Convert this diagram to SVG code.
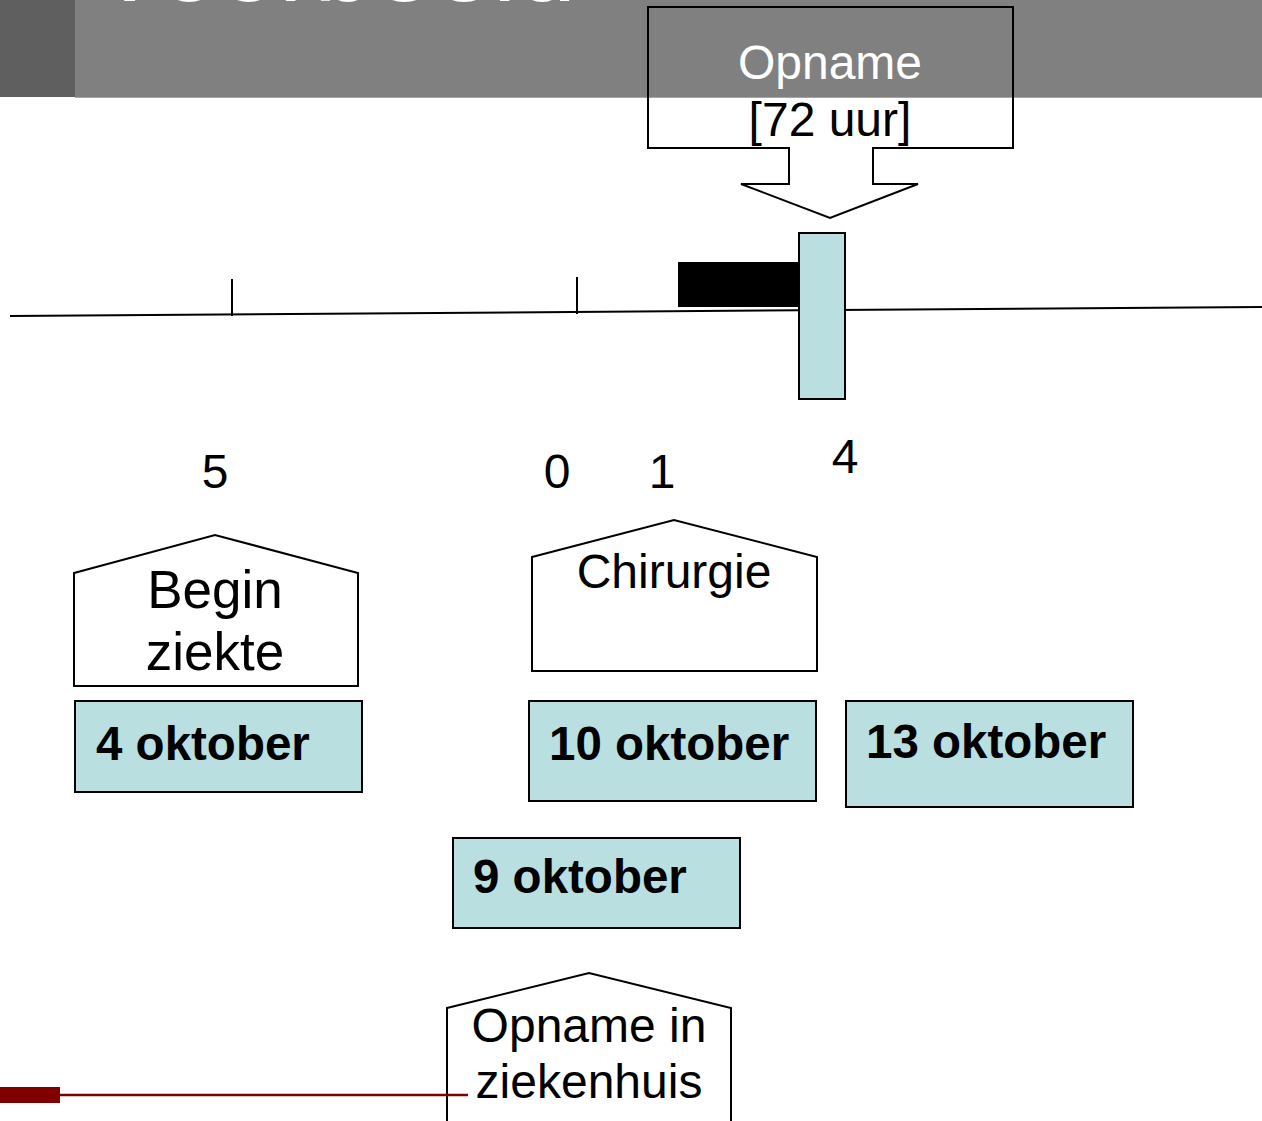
<svg xmlns="http://www.w3.org/2000/svg" width="1262" height="1121" viewBox="0 0 1262 1121">
<style>
text{font-family:"Liberation Sans",Arial,sans-serif;}
.lbl{font-size:48px;fill:#000;text-anchor:middle;}
.date{font-size:47.5px;font-weight:bold;fill:#000;}
.box{fill:#b9dfe1;stroke:#000;stroke-width:2;}
.shape{fill:#fff;stroke:#000;stroke-width:2;}
</style>
<rect width="1262" height="1121" fill="#fff"/>
<g id="header">
<rect x="0" y="0" width="1262" height="97" fill="#808080"/>
<rect x="0" y="0" width="75" height="97" fill="#5f5f5f"/>
<line x1="75" y1="97.5" x2="1262" y2="97.5" stroke="#a6a6a6" stroke-width="1"/>
<text x="94" y="1" font-size="107" fill="#fff">Voorbeeld</text>
</g>
<g id="timeline">
<line x1="10" y1="316" x2="1262" y2="307" stroke="#000" stroke-width="2"/>
<line x1="232" y1="279" x2="232" y2="316" stroke="#000" stroke-width="2"/>
<line x1="577" y1="277" x2="577" y2="314" stroke="#000" stroke-width="2"/>
<rect x="678" y="262" width="122" height="45" fill="#000"/>
<rect class="box" x="799" y="233" width="46" height="166"/>
</g>
<g id="callout-opname">
<path d="M648,7 H1013 V148 H873 V184 H918 L830,218 L741,184 H789 V148 H648 Z" fill="none" stroke="#000" stroke-width="2"/>
<text class="lbl" x="830" y="79" style="fill:#fff">Opname</text>
<text class="lbl" x="830" y="136">[72 uur]</text>
</g>
<g id="numbers">
<text class="lbl" x="215" y="488">5</text>
<text class="lbl" x="557" y="488">0</text>
<text class="lbl" x="662" y="488">1</text>
<text class="lbl" x="845" y="473">4</text>
</g>
<g id="begin-ziekte">
<polygon class="shape" points="74,573 215,535 358,573 358,686 74,686"/>
<text class="lbl" x="215" y="608" style="font-size:53px">Begin</text>
<text class="lbl" x="215" y="670" style="font-size:53px">ziekte</text>
</g>
<g id="chirurgie">
<polygon class="shape" points="532,557 674,520 817,557 817,671 532,671"/>
<text class="lbl" x="674" y="588">Chirurgie</text>
</g>
<g id="opname-ziekenhuis">
<polygon class="shape" points="447,1008 589,973 731,1008 731,1125 447,1125"/>
<text class="lbl" x="589" y="1042">Opname in</text>
<text class="lbl" x="589" y="1098">ziekenhuis</text>
</g>
<g id="date-4">
<rect class="box" x="75" y="701" width="287" height="91"/>
<text class="date" x="96" y="760">4 oktober</text>
</g>
<g id="date-10">
<rect class="box" x="529" y="701" width="287" height="100"/>
<text class="date" x="549" y="760">10 oktober</text>
</g>
<g id="date-13">
<rect class="box" x="846" y="701" width="287" height="106"/>
<text class="date" x="866" y="758">13 oktober</text>
</g>
<g id="date-9">
<rect class="box" x="453" y="838" width="287" height="90"/>
<text class="date" x="473" y="893">9 oktober</text>
</g>
<g id="footer">
<rect x="0" y="1087" width="60" height="16" fill="#800000"/>
<line x1="60" y1="1095" x2="468" y2="1095" stroke="#800000" stroke-width="2.5"/>
</g>
</svg>
